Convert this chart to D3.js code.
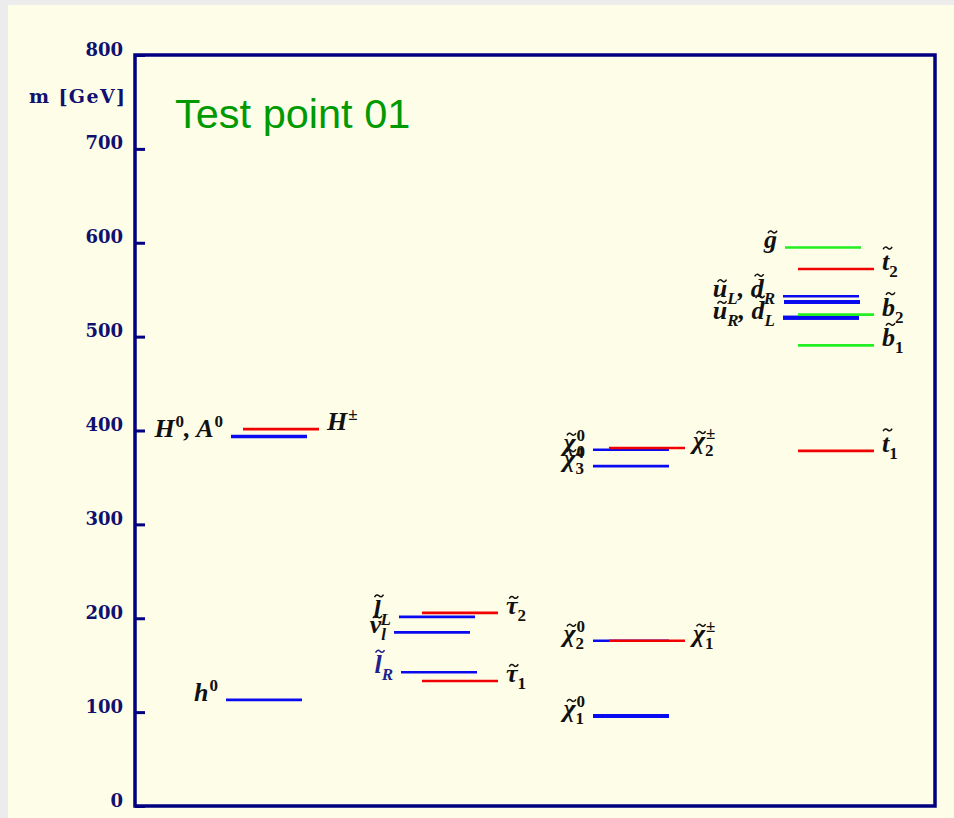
<!DOCTYPE html>
<html>
<head>
<meta charset="utf-8">
<script src="https://cdn.jsdelivr.net/npm/d3@7"></script>
<style>
  html, body { margin: 0; padding: 0; background: #ececec; }
  text { white-space: pre; }
</style>
</head>
<body>
<div id="chart"></div>
<script>
// SUSY mass spectrum, test point 01

const particles = ["h0", "H0", "A0", "Hpm",
  "snu", "slL", "slR", "stau1", "stau2",
  "chi10", "chi20", "chi30", "chi40", "chi1pm", "chi2pm",
  "gluino", "uL", "dR", "uR", "dL", "sb1", "sb2", "st1", "st2"];
const masses = [113, 394, 393, 401.5,
  185, 201.5, 142.4, 133.2, 205.7,
  95.9, 176, 362, 379.5, 176, 381.4,
  595, 543, 537, 520, 520, 490.7, 523.4, 378.3, 572];
const sectors = ["higgs", "higgs", "higgs", "higgs",
  "slepton", "slepton", "slepton", "slepton", "slepton",
  "gaugino", "gaugino", "gaugino", "gaugino", "gaugino", "gaugino",
  "squark", "squark", "squark", "squark", "squark", "squark", "squark", "squark", "squark"];

const yTicks = [0, 100, 200, 300, 400, 500, 600, 700, 800];

const labelTexts = ["h^0", "H^0, A^0", "H^±", "~l_L", "~ν_l", "~l_R", "~τ_2", "~τ_1",
  "~χ^0_4", "~χ^0_3", "~χ^±_2", "~χ^0_2", "~χ^±_1", "~χ^0_1",
  "~g", "~t_2", "~u_L, ~d_R", "~b_2", "~u_R, ~d_L", "~b_1", "~t_1"];
const labelFor = ["h0", "H0", "Hpm", "slL", "snu", "slR", "stau2", "stau1",
  "chi40", "chi30", "chi2pm", "chi20", "chi1pm", "chi10",
  "gluino", "st2", "uL", "sb2", "uR", "sb1", "st1"];
const labelSide = ["left", "left", "right", "left", "left", "left", "right", "right",
  "left", "left", "right", "left", "right", "left",
  "left", "right", "left", "right", "left", "right", "right"];

function drawSpectrum() {
  const width = 954, height = 818;
  const frame = { left: 135, top: 55, right: 935, bottom: 806 };
  const lineLength = 76;

  const blue = "#0a0af0", red = "#f00000", green = "#22ee22";
  const lineColor = {
    h0: blue, H0: blue, A0: blue, Hpm: red,
    snu: blue, slL: blue, slR: blue, stau1: red, stau2: red,
    chi10: blue, chi20: blue, chi30: blue, chi40: blue, chi1pm: red, chi2pm: red,
    gluino: green, uL: blue, dR: blue, uR: blue, dL: blue, sb1: green, sb2: green, st1: red, st2: red
  };
  // small horizontal shifts inside a column
  const nudge = {
    H0: 5, A0: 5, Hpm: 17, slL: 5, slR: 7, stau1: 28, stau2: 28,
    chi1pm: 16, chi2pm: 16, gluino: 2, dR: 1, sb1: 15, sb2: 15, st1: 15, st2: 15
  };
  const heavy = new Set(["chi10", "dR", "uR", "dL"]);

  const y = d3.scaleLinear().domain([0, 800]).range([frame.bottom, frame.top]);
  const x = d3.scaleOrdinal()
    .domain(["higgs", "slepton", "gaugino", "squark"])
    .range([226, 394, 593, 783]);

  const svg = d3.select("#chart").append("svg")
    .attr("width", width)
    .attr("height", height)
    .style("display", "block");

  svg.append("rect").attr("width", width).attr("height", height).attr("fill", "#ececec");
  svg.append("rect").attr("x", 8).attr("y", 5)
    .attr("width", width - 8).attr("height", height - 5)
    .attr("fill", "#fefee8");

  // axis ticks and labels
  const axis = svg.append("g")
    .attr("transform", "translate(" + frame.left + ",0)")
    .call(d3.axisLeft(y).tickValues(yTicks).tickSize(-10).tickPadding(12));
  axis.select(".domain").remove();
  axis.selectAll(".tick line").attr("stroke", "#000080").attr("stroke-width", 3);
  axis.selectAll(".tick text")
    .attr("dy", 0)
    .attr("fill", "#10106e")
    .attr("font-family", "'DejaVu Serif', serif")
    .attr("font-weight", "bold")
    .attr("font-size", 18);

  svg.append("text")
    .attr("x", 125).attr("y", 103)
    .attr("text-anchor", "end")
    .attr("font-family", "'DejaVu Serif', serif")
    .attr("font-weight", "bold")
    .attr("font-size", 19)
    .attr("fill", "#10106e")
    .attr("textLength", 96)
    .attr("lengthAdjust", "spacing")
    .text("m [GeV]");

  svg.append("rect")
    .attr("x", frame.left).attr("y", frame.top)
    .attr("width", frame.right - frame.left)
    .attr("height", frame.bottom - frame.top)
    .attr("fill", "none")
    .attr("stroke", "#000080")
    .attr("stroke-width", 3.5);

  svg.append("text")
    .attr("x", 175).attr("y", 128)
    .attr("font-family", "'Liberation Sans', Arial, sans-serif")
    .attr("font-size", 41.5)
    .attr("fill", "#009a00")
    .text("Test point 01");

  // mass levels
  const levels = particles.map(function(p, i) {
    const x0 = x(sectors[i]) + (nudge[p] || 0);
    return { name: p, mass: masses[i], x0: x0, x1: x0 + lineLength };
  });
  const byName = new Map(levels.map(function(d) { return [d.name, d]; }));

  svg.append("g").selectAll("line")
    .data(levels)
    .join("line")
    .attr("x1", function(d) { return d.x0; })
    .attr("x2", function(d) { return d.x1; })
    .attr("y1", function(d) { return y(d.mass); })
    .attr("y2", function(d) { return y(d.mass); })
    .attr("stroke", function(d) { return lineColor[d.name]; })
    .attr("stroke-width", function(d) { return heavy.has(d.name) ? 4 : 2.6; });

  // labels with tilde, super- and subscripts
  function parseLabel(s) {
    const pieces = [];
    let i = 0;
    while (i < s.length) {
      const c = s[i];
      const last = pieces[pieces.length - 1];
      if (c === "~") {
        pieces.push({ base: s[i + 1], tilde: true });
        i += 2;
      } else if (c === "^" || c === "_") {
        last[c === "^" ? "sup" : "sub"] = s[i + 1];
        i += 2;
      } else {
        if (last && last.plain && !last.sup && !last.sub) last.base += c;
        else pieces.push({ base: c, plain: true });
        i += 1;
      }
    }
    return pieces;
  }

  const baseSize = 26, scriptSize = 17, gap = 8;
  const tall = "lbdt";
  function scriptStyle(ch) { return /[0-9±]/.test(ch) ? "normal" : "italic"; }

  const labelLayer = svg.append("g")
    .attr("font-family", "'Liberation Serif', 'DejaVu Serif', serif")
    .attr("font-style", "italic")
    .attr("font-weight", "bold");

  labelTexts.forEach(function(str, i) {
    const lv = byName.get(labelFor[i]);
    const ink = labelFor[i] === "slR" ? "#22228c" : "#111";
    const g = labelLayer.append("g").attr("fill", ink);
    let cx = 0;
    parseLabel(str).forEach(function(piece) {
      const t = g.append("text").attr("x", cx).attr("y", 0)
        .attr("font-size", baseSize).text(piece.base);
      const bw = t.node().getComputedTextLength();
      if (piece.tilde) {
        const ty = tall.indexOf(piece.base) >= 0 ? -22 : -16.5;
        g.append("path")
          .attr("transform", "translate(" + (cx + bw / 2 + 2) + "," + ty + ")")
          .attr("d", "M-4.5,1.2 Q-2.3,-2.4 0,0 T4.5,-1.2")
          .attr("fill", "none")
          .attr("stroke", ink)
          .attr("stroke-width", 1.5);
      }
      cx += bw;
      let w = 0;
      if (piece.sup) {
        const s = g.append("text").attr("x", cx + 1).attr("y", -10)
          .attr("font-size", scriptSize)
          .attr("font-style", scriptStyle(piece.sup))
          .text(piece.sup);
        w = Math.max(w, s.node().getComputedTextLength() + 1);
      }
      if (piece.sub) {
        const s = g.append("text").attr("x", cx).attr("y", 7)
          .attr("font-size", scriptSize)
          .attr("font-style", scriptStyle(piece.sub))
          .text(piece.sub);
        w = Math.max(w, s.node().getComputedTextLength());
      }
      cx += w;
    });
    const tx = labelSide[i] === "left" ? lv.x0 - gap - cx : lv.x1 + gap;
    g.attr("transform", "translate(" + tx + "," + (y(lv.mass) + 1) + ")");
  });
}

if (document.readyState === "loading") {
  document.addEventListener("DOMContentLoaded", drawSpectrum);
} else {
  drawSpectrum();
}
</script>
</body>
</html>
